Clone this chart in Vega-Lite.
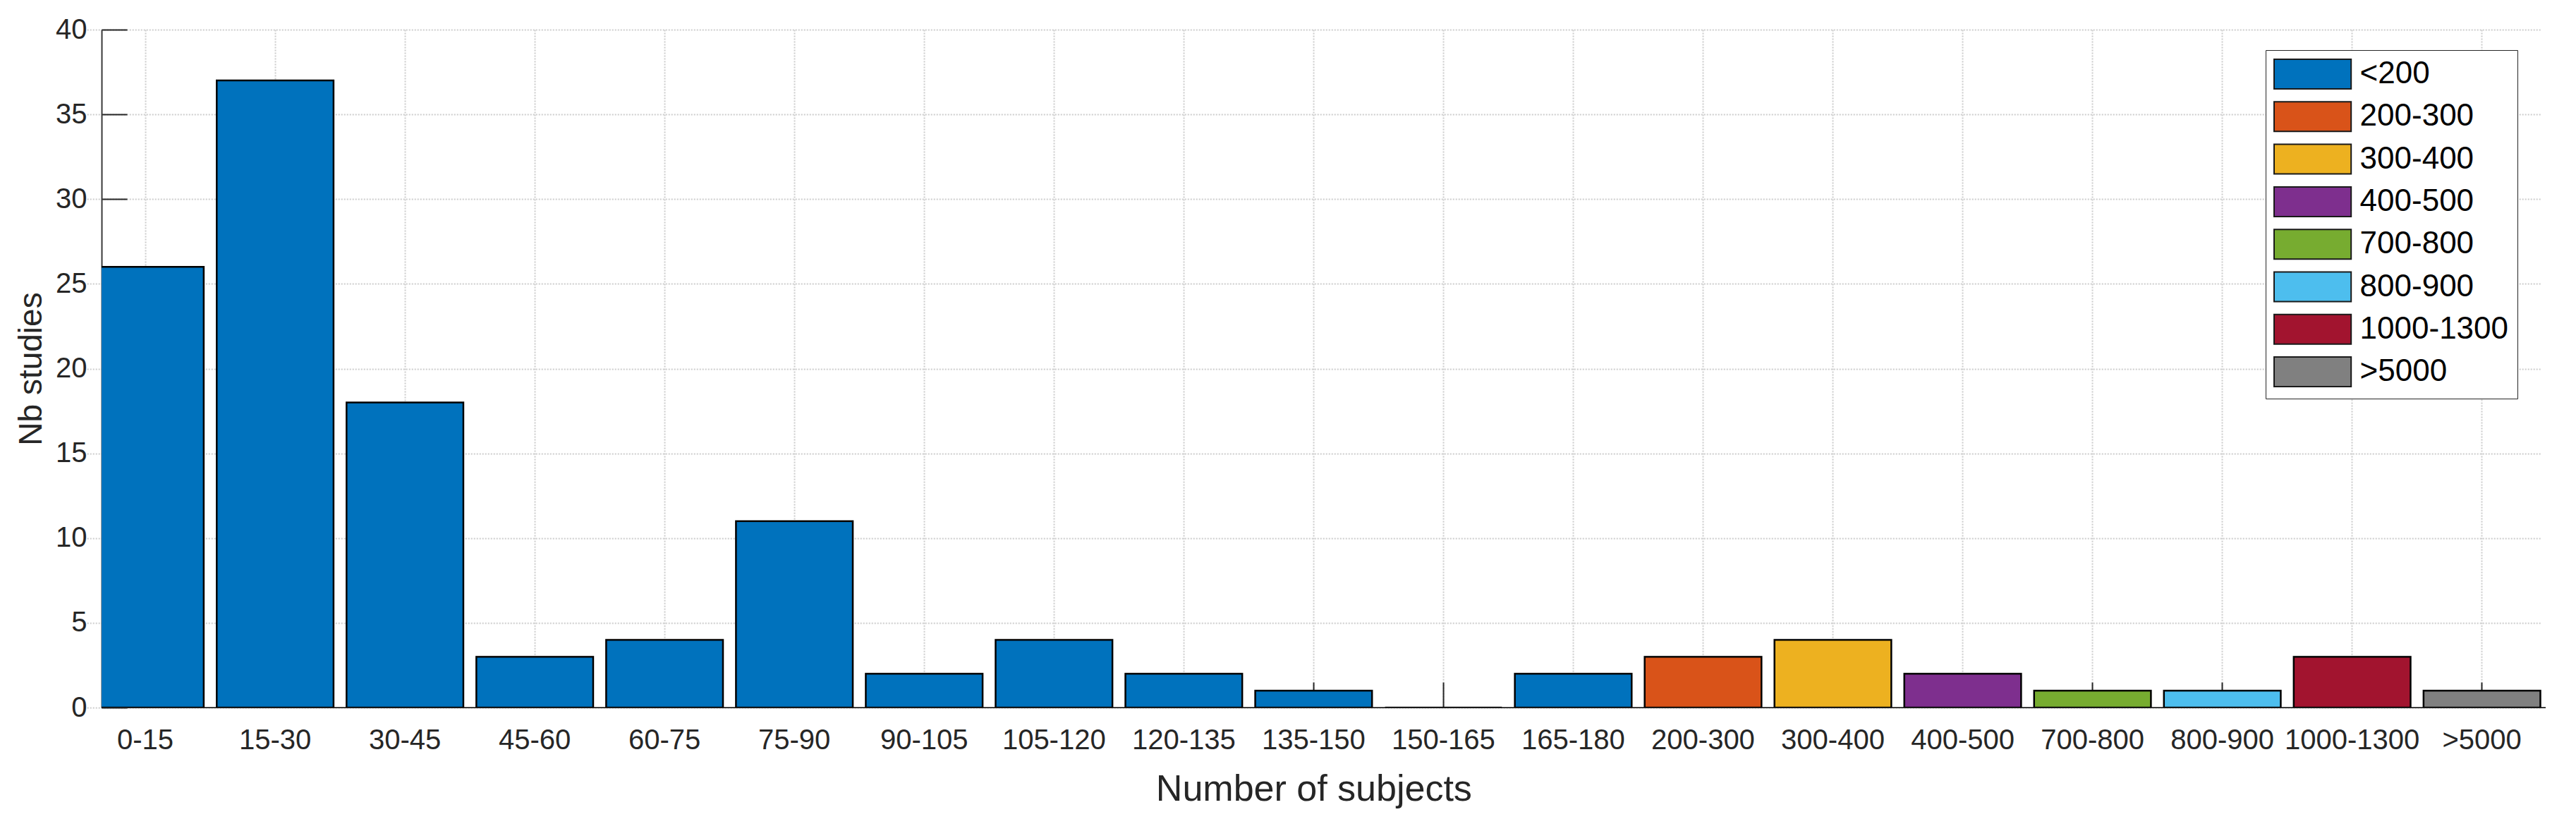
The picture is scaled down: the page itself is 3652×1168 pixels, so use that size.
{
  "$schema": "https://vega.github.io/schema/vega-lite/v6.json",
  "width": 3465,
  "height": 961,
  "autosize": {"type": "none"},
  "padding": {"left": 144, "top": 42, "right": 43, "bottom": 165},
  "background": "white",
  "config": {"view": {"stroke": null}, "font": "Liberation Sans"},
  "data": {
    "values": [
      {"subjects": "0-15", "studies": 26, "group": "<200"},
      {"subjects": "15-30", "studies": 37, "group": "<200"},
      {"subjects": "30-45", "studies": 18, "group": "<200"},
      {"subjects": "45-60", "studies": 3, "group": "<200"},
      {"subjects": "60-75", "studies": 4, "group": "<200"},
      {"subjects": "75-90", "studies": 11, "group": "<200"},
      {"subjects": "90-105", "studies": 2, "group": "<200"},
      {"subjects": "105-120", "studies": 4, "group": "<200"},
      {"subjects": "120-135", "studies": 2, "group": "<200"},
      {"subjects": "135-150", "studies": 1, "group": "<200"},
      {"subjects": "150-165", "studies": 0, "group": "<200"},
      {"subjects": "165-180", "studies": 2, "group": "<200"},
      {"subjects": "200-300", "studies": 3, "group": "200-300"},
      {"subjects": "300-400", "studies": 4, "group": "300-400"},
      {"subjects": "400-500", "studies": 2, "group": "400-500"},
      {"subjects": "700-800", "studies": 1, "group": "700-800"},
      {"subjects": "800-900", "studies": 1, "group": "800-900"},
      {"subjects": "1000-1300", "studies": 3, "group": "1000-1300"},
      {"subjects": ">5000", "studies": 1, "group": ">5000"}
    ]
  },
  "layer": [
    {
      "mark": {"type": "rule", "color": "#3a3a3a", "strokeWidth": 2},
      "encoding": {"y": {"datum": 0}}
    },
    {
      "mark": {"type": "bar", "stroke": "black", "strokeWidth": 2.5, "clip": true},
      "encoding": {
        "x": {
          "field": "subjects",
          "type": "nominal",
          "sort": null,
          "scale": {"range": [-20.8, 3457.5], "paddingInner": 0.1, "paddingOuter": 0},
          "axis": {
            "title": "Number of subjects",
            "titleFontSize": 52,
            "titleFontWeight": "normal",
            "titleColor": "#262626",
            "titleY": 131,
            "titleBaseline": "alphabetic",
            "labelFontSize": 40,
            "labelColor": "#262626",
            "labelAngle": 0,
            "labelBaseline": "alphabetic",
            "labelPadding": 94.7,
            "labelFlush": false,
            "labelOverlap": false,
            "labelLimit": 1000,
            "tickSize": -36,
            "tickColor": "#262626",
            "tickWidth": 2,
            "domain": false,
            "grid": true,
            "gridColor": "#cccccc",
            "gridDash": [2, 2],
            "gridWidth": 2,
            "bandPosition": 0.5
          }
        },
        "y": {
          "field": "studies",
          "type": "quantitative",
          "scale": {"domain": [0, 40], "nice": false},
          "axis": {
            "title": "Nb studies",
            "titleFontSize": 46,
            "titleFontWeight": "normal",
            "titleColor": "#262626",
            "titleX": -86,
            "titleY": 480.5,
            "titleBaseline": "alphabetic",
            "values": [0, 5, 10, 15, 20, 25, 30, 35, 40],
            "labelFontSize": 40,
            "labelColor": "#262626",
            "labelPadding": 57,
            "labelFlush": false,
            "tickSize": -36,
            "tickColor": "#262626",
            "tickWidth": 2,
            "domainColor": "#3a3a3a",
            "domainWidth": 2,
            "grid": true,
            "gridColor": "#cccccc",
            "gridDash": [2, 2],
            "gridWidth": 2
          }
        },
        "fill": {
          "field": "group",
          "type": "nominal",
          "scale": {
            "domain": ["<200", "200-300", "300-400", "400-500", "700-800", "800-900", "1000-1300", ">5000"],
            "range": ["#0072BD", "#D95319", "#EDB120", "#7E2F8E", "#77AC30", "#4DBEEE", "#A2142F", "#808080"]
          },
          "legend": {
            "title": null,
            "orient": "none",
            "legendX": 3068,
            "legendY": 29,
            "fillColor": "white",
            "strokeColor": "#262626",
            "padding": 12,
            "symbolType": "M-2.6,-1H2.6V1H-2.6Z",
            "symbolSize": 1764,
            "symbolStrokeColor": "#1a1a1a",
            "symbolStrokeWidth": 2,
            "symbolOffset": 32.6,
            "symbolOpacity": 1,
            "labelFontSize": 44,
            "labelColor": "black",
            "labelOffset": 45,
            "labelLimit": 500,
            "rowPadding": 10.3
          }
        }
      }
    }
  ]
}
